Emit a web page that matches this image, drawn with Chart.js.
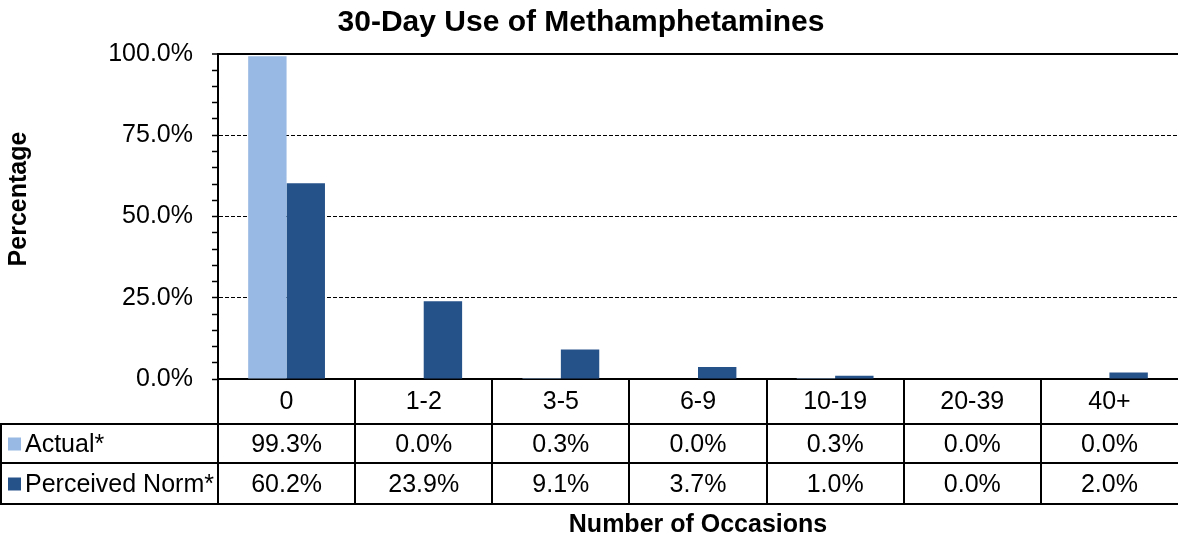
<!DOCTYPE html>
<html>
<head>
<meta charset="utf-8">
<title>30-Day Use of Methamphetamines</title>
<script src="https://cdn.jsdelivr.net/npm/chart.js@4"></script>
<style>
    html, body { margin: 0; padding: 0; background: #fff; }
    #chartBox { width: 1178px; height: 540px; }
</style>
</head>
<body>
<div id="chartBox"><canvas id="methChart" width="1178" height="540"></canvas></div>
<script>
// Survey data
const occasions = ['0', '1-2', '3-5', '6-9', '10-19', '20-39', '40+'];
const actualPct = [99.3, 0.0, 0.3, 0.0, 0.3, 0.0, 0.0];
const perceivedPct = [60.2, 23.9, 9.1, 3.7, 1.0, 0.0, 2.0];
const yTickValues = [0, 25, 50, 75, 100];

const FONT = "'Liberation Sans', Arial, sans-serif";
const LIGHT_BLUE = '#98b9e3';
const DARK_BLUE = '#26528a';

const seriesNames = ['Actual*', 'Perceived Norm*'];
const seriesColors = [LIGHT_BLUE, DARK_BLUE];
const seriesValues = [actualPct, perceivedPct];

const pct = (v) => v.toFixed(1) + '%';

// Title, axis titles and the data table under the x axis
const tablePlugin = {
    id: 'dataTable',
    afterDraw(chart) {
        const ctx = chart.ctx;
        const area = chart.chartArea;
        const xs = chart.scales.x;
        const colW = (area.right - area.left) / occasions.length;
        const headTop = area.bottom;
        const headBottom = 424;
        const rowBounds = [424, 463, 504];

        ctx.save();
        ctx.strokeStyle = '#000';
        ctx.lineWidth = 2;
        ctx.beginPath();
        // column lines through header and both rows
        for (let i = 0; i < occasions.length; i++) {
            const x = Math.round(area.left + i * colW);
            ctx.moveTo(x, headTop);
            ctx.lineTo(x, rowBounds[2]);
        }
        // outer left edge of the legend column
        ctx.moveTo(1, rowBounds[0]);
        ctx.lineTo(1, rowBounds[2]);
        rowBounds.forEach(y => {
            ctx.moveTo(0, y);
            ctx.lineTo(chart.width, y);
        });
        ctx.stroke();

        ctx.fillStyle = '#000';
        ctx.textBaseline = 'middle';
        ctx.textAlign = 'center';
        ctx.font = '25px ' + FONT;
        occasions.forEach((label, i) => {
            ctx.fillText(label, xs.getPixelForValue(i), (headTop + headBottom) / 2 + 1);
        });

        seriesValues.forEach((vals, r) => {
            const cy = (rowBounds[r] + rowBounds[r + 1]) / 2 + 2;
            vals.forEach((v, i) => {
                ctx.fillText(pct(v), xs.getPixelForValue(i), cy);
            });
            ctx.fillStyle = seriesColors[r];
            ctx.fillRect(8, cy - 8, 13, 13);
            ctx.fillStyle = '#000';
            ctx.textAlign = 'left';
            ctx.fillText(seriesNames[r], 25, cy);
            ctx.textAlign = 'center';
        });

        // chart title and axis titles
        ctx.font = 'bold 30px ' + FONT;
        ctx.fillText('30-Day Use of Methamphetamines', 581, 23);
        ctx.font = 'bold 25px ' + FONT;
        ctx.fillText('Number of Occasions', (area.left + area.right) / 2, 525);
        ctx.translate(19, 199);
        ctx.rotate(-Math.PI / 2);
        ctx.fillText('Percentage', 0, 0);
        ctx.restore();
    }
};

new Chart(document.getElementById('methChart'), {
    type: 'bar',
    data: {
        labels: occasions,
        datasets: [
            { label: seriesNames[0], data: actualPct, backgroundColor: LIGHT_BLUE },
            { label: seriesNames[1], data: perceivedPct, backgroundColor: DARK_BLUE }
        ]
    },
    options: {
        responsive: false,
        animation: false,
        layout: { padding: { top: 54, right: 0, left: 0, bottom: 0 } },
        datasets: { bar: { categoryPercentage: 0.56, barPercentage: 1.0 } },
        plugins: {
            legend: { display: false },
            title: { display: false },
            tooltip: { enabled: false }
        },
        scales: {
            x: {
                grid: { display: false, drawTicks: false },
                ticks: { display: false },
                border: { display: true, color: '#000', width: 2 },
                afterFit: (scale) => { scale.height = 161; }
            },
            y: {
                min: 0,
                max: 100,
                afterFit: (scale) => { scale.width = 218; },
                ticks: {
                    stepSize: 5,
                    autoSkip: false,
                    padding: 19,
                    color: '#000',
                    font: { family: FONT, size: 25 },
                    callback: (v) => yTickValues.includes(v) ? pct(v) : ''
                },
                grid: {
                    color: (c) => (c.tick && c.tick.value % 25 === 0 && c.tick.value > 0) ? '#000' : 'rgba(0,0,0,0)',
                    lineWidth: (c) => (c.tick && c.tick.value === 100) ? 2 : 1,
                    tickColor: '#000',
                    tickLength: 6,
                    tickWidth: 1.5
                },
                border: {
                    display: true,
                    color: '#000',
                    width: 2,
                    dash: (c) => (c.tick && c.tick.value < 100) ? [4, 2] : []
                }
            }
        }
    },
    plugins: [tablePlugin]
});
</script>
</body>
</html>
